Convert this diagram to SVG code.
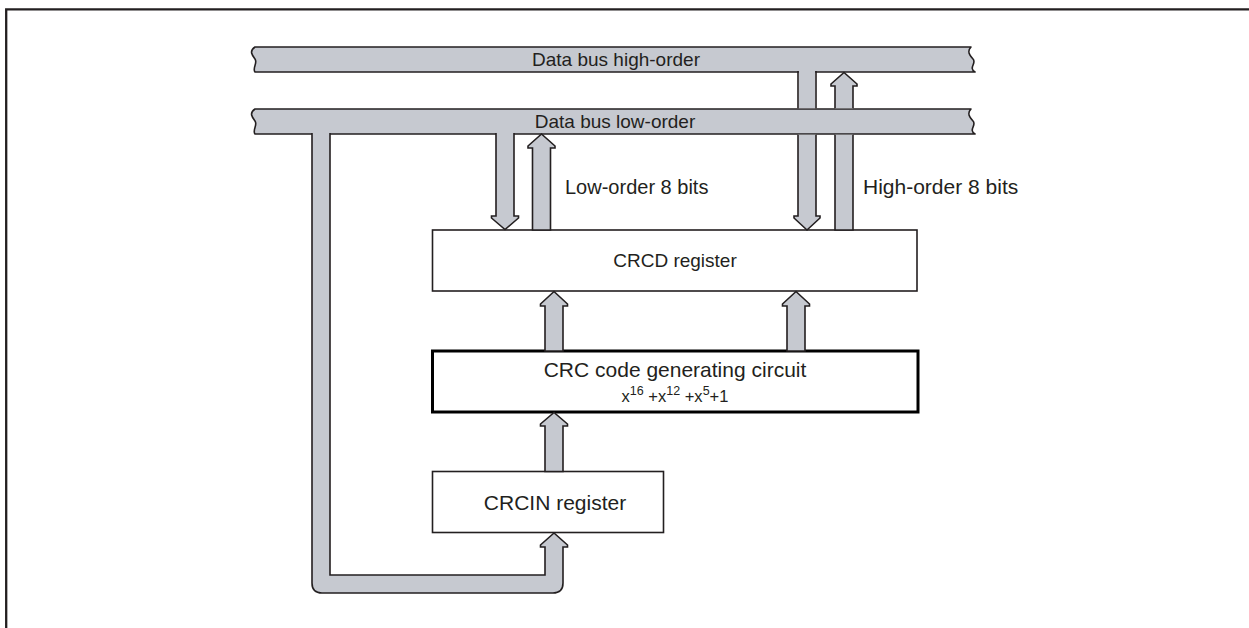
<svg xmlns="http://www.w3.org/2000/svg" width="1249" height="628" viewBox="0 0 1249 628">
<style>
.frame{fill:none;stroke:#231f20;stroke-width:2.3}
.bus{fill:#c6c9d0;stroke:#231f20;stroke-width:1.6;stroke-linejoin:round}
.conn{fill:#c6c9d0;stroke:#231f20;stroke-width:1.6;stroke-linejoin:miter}
.box{fill:#ffffff;stroke:#231f20;stroke-width:1.6}
.boxb{fill:#ffffff;stroke:#000000;stroke-width:3}
text{font-family:"Liberation Sans",Arial,sans-serif;fill:#231f20}
.c{text-anchor:middle}
</style>
<path class="frame" d="M6.2,628 V9.3 H1249"/>
<g id="bus-high">
<path class="bus" d="M255,47 H971 C967,51 969,55 973,59 C977,63 968,68 975,72 H255 C252,68 258,63 255,59 C252,55 249,51 255,47 Z"/>
<text class="c" x="616" y="66" font-size="19">Data bus high-order</text>
</g>
<g id="bus-low">
<path class="bus" d="M255,109 H971 C967,113 969,117 973,121 C977,125 968,130 975,134 H255 C252,130 258,125 255,121 C252,117 249,113 255,109 Z"/>
<text class="c" x="615" y="127.5" font-size="19">Data bus low-order</text>
</g>
<g id="crcd">
<rect class="box" x="432.5" y="230" width="484.5" height="61"/>
<text class="c" x="675" y="267" font-size="19">CRCD register</text>
</g>
<g id="crc">
<rect class="boxb" x="432.5" y="351" width="485.5" height="61"/>
<text class="c" x="675" y="377" font-size="21">CRC code generating circuit</text>
<text class="c" x="675" y="401.5" font-size="16.5">x<tspan dy="-6.5" font-size="12.5">16</tspan><tspan dy="6.5"> +x</tspan><tspan dy="-6.5" font-size="12.5">12</tspan><tspan dy="6.5"> +x</tspan><tspan dy="-6.5" font-size="12.5">5</tspan><tspan dy="6.5">+1</tspan></text>
</g>
<g id="crcin">
<rect class="box" x="432.5" y="471.5" width="231" height="61"/>
<text class="c" x="555" y="509.5" font-size="21">CRCIN register</text>
</g>
<g id="labels">
<text x="565" y="193.5" font-size="20">Low-order 8 bits</text>
<text x="863" y="193.5" font-size="21">High-order 8 bits</text>
</g>
<g id="connectors">
<rect x="798.8" y="71" width="16.4" height="37.2" fill="#c6c9d0"/>
<path class="conn" d="M798,71 V108.2 M816,108.2 V71" fill="none"/>
<path class="conn" d="M798,134.8 V216 H794 V218 L807,230 L820,218 V216 H816 V134.8"/>
<path class="conn" d="M835,108.2 V86 H831 V84 L844,72.5 L857,84 V86 H853 V108.2"/>
<path class="conn" d="M835,134.8 V230 H853 V134.8"/>
<path class="conn" d="M514,133 V216 H518.5 V218 L505,229.5 L491.5,218 V216 H496 V133"/>
<path class="conn" d="M532.5,230 V148 H528 V146 L541.5,134 L555,146 V148 H550.5 V230 Z"/>
<path class="conn" d="M545,351 V306 H540.5 V304 L554,291.5 L567.5,304 V306 H563 V351 Z"/>
<path class="conn" d="M787,351 V306 H782.5 V304 L796,291.5 L809.5,304 V306 H805 V351 Z"/>
<path class="conn" d="M545,471.5 V426 H540.5 V424 L554,412.5 L567.5,424 V426 H563 V471.5 Z"/>
<path class="conn" d="M330,133 V575 H545 V547 H540.5 V545 L554,533 L567.5,545 V547 H563 V583 Q563,593 553,593 H322 Q312,593 312,583 V133"/>
</g>
</svg>
